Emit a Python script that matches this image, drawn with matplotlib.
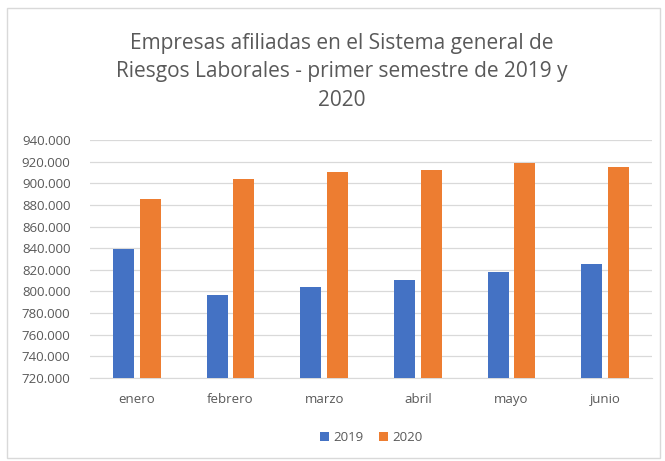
import numpy as np
import matplotlib.pyplot as plt
from matplotlib.patches import Rectangle
from matplotlib.ticker import FuncFormatter

meses = ['enero', 'febrero', 'marzo', 'abril', 'mayo', 'junio']
empresas_2019 = [839200, 796300, 804200, 810300, 818200, 825400]
empresas_2020 = [885700, 903500, 910400, 912000, 918300, 915300]
ticks_y = [720000, 740000, 760000, 780000, 800000, 820000, 840000,
           860000, 880000, 900000, 920000, 940000]

plt.rcParams['font.family'] = ['Open Sans', 'DejaVu Sans']
gris = '#595959'

fig = plt.figure(figsize=(6.65, 4.61), dpi=100)
ax = fig.add_axes([90/665, 1 - 378/461, (652-90)/665, (378-140)/461])

# marco gris alrededor del gráfico
fig.patches.append(Rectangle((7/665, 3/461), 653/665, 450/461, transform=fig.transFigure,
                             fill=False, edgecolor='#d9d9d9', linewidth=1))

x = np.arange(len(meses))
ancho = 0.224
ax.bar(x - 0.144, np.array(empresas_2019) - 720000, ancho, bottom=720000,
       color='#4472C4', label='2019', zorder=3)
ax.bar(x + 0.144, np.array(empresas_2020) - 720000, ancho, bottom=720000,
       color='#ED7D31', label='2020', zorder=3)

ax.set_xlim(-0.5, len(meses) - 0.5)
ax.set_ylim(720000, 940000)
ax.set_yticks(ticks_y)
ax.yaxis.set_major_formatter(FuncFormatter(lambda v, p: f'{int(v):,}'.replace(',', '.')))
ax.set_xticks(x)
ax.set_xticklabels(meses)
ax.grid(axis='y', color='#d9d9d9', linewidth=0.9, zorder=0)
for s in ['top', 'right', 'left']:
    ax.spines[s].set_visible(False)
ax.spines['bottom'].set_color('#d9d9d9')
ax.tick_params(axis='both', length=0, colors=gris, labelsize=9.5)
ax.tick_params(axis='x', pad=11)
ax.tick_params(axis='y', pad=14)

fig.text(0.514, 1 - 72/461, 'Empresas afiliadas en el Sistema general de\nRiesgos Laborales - primer semestre de 2019 y\n2020',
         ha='center', va='center', fontsize=15, color=gris, linespacing=1.45)

ax.legend(loc='center', bbox_to_anchor=(0.5, -0.25), ncol=2, frameon=False,
          fontsize=9.5, labelcolor=gris, handlelength=0.7, handleheight=0.7,
          handletextpad=0.3, columnspacing=1.2)

plt.savefig('out.png', dpi=100)
